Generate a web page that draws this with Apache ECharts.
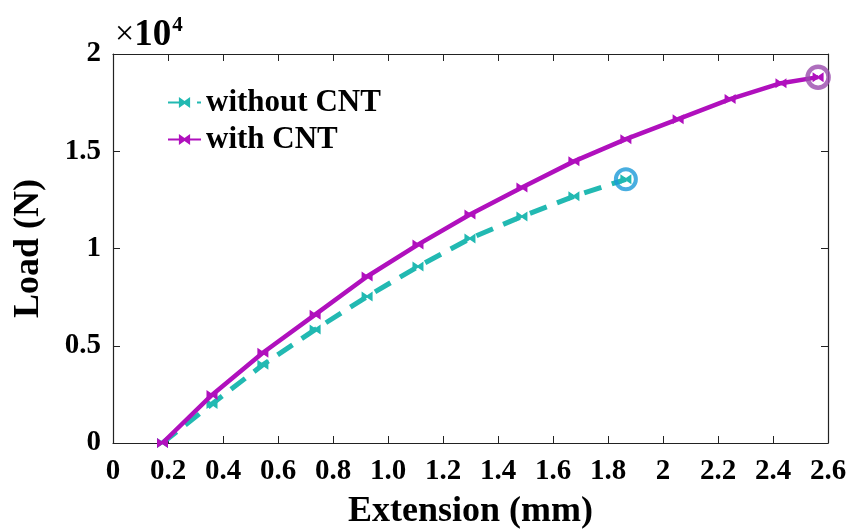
<!DOCTYPE html>
<html>
<head>
<meta charset="utf-8">
<script src="https://cdn.jsdelivr.net/npm/echarts@6/dist/echarts.min.js"></script>
<style>
  html, body { margin: 0; padding: 0; background: #fff; }
  #main { width: 849px; height: 530px; }
</style>
</head>
<body>
<div id="main"></div>
<script>
// extension (mm) at each recorded point
var extension = [0.18, 0.36, 0.545, 0.735, 0.924, 1.109, 1.298, 1.487, 1.676, 1.865, 2.055, 2.244, 2.429, 2.564];
// load (N)
var withCnt = [0, 2470, 4640, 6600, 8560, 10200, 11750, 13140, 14480, 15620, 16650, 17680, 18500, 18810];
var withoutCnt = [0, 2010, 4020, 5830, 7530, 9070, 10510, 11650, 12680, 13560];
var xTickLabels = ['0', '0.2', '0.4', '0.6', '0.8', '1.0', '1.2', '1.4', '1.6', '1.8', '2', '2.2', '2.4', '2.6'];
var yTickLabels = ['0', '0.5', '1', '1.5', '2'];

var myChart = echarts.init(document.getElementById('main'));

var pairs = function (xs, ys) {
    var result = [];
    for (var i = 0; i < ys.length; i++) {
        result.push([xs[i], ys[i]]);
    }
    return result;
};

var font = 'Liberation Serif';
var marker = 'path://M0,0L5,3L10,0L10,8L5,5L0,8Z';
var teal = '#22b9b2';
var purple = '#b010bd';
var axisColor = '#222';

var lastNo = withoutCnt.length - 1;
var lastWith = withCnt.length - 1;

option = {
    backgroundColor: '#fff',
    animation: false,
    textStyle: { fontFamily: font },
    grid: { left: 113, right: 21, top: 54, bottom: 87, outerBoundsMode: 'none' },
    legend: {
        orient: 'vertical',
        left: 162,
        top: 82,
        itemWidth: 33,
        itemHeight: 14,
        itemGap: 6,
        data: ['without CNT', 'with CNT'],
        textStyle: { fontFamily: font, fontWeight: 'bold', fontSize: 31, color: '#000' }
    },
    graphic: [{
        type: 'text',
        left: 115,
        top: 15,
        style: {
            text: '{a|×}{c|10}{b|4}',
            rich: {
                a: { fontFamily: font, fontSize: 34, fill: '#000' },
                c: { fontFamily: font, fontSize: 37, fontWeight: 'bold', fill: '#000' },
                b: { fontFamily: font, fontSize: 21, fontWeight: 'bold', fill: '#000', padding: [0, 0, 20, 1] }
            }
        }
    }],
    xAxis: [{
        type: 'value',
        min: 0,
        max: 2.6,
        interval: 0.2,
        name: 'Extension (mm)',
        nameLocation: 'middle',
        nameGap: 51,
        nameTextStyle: { fontFamily: font, fontWeight: 'bold', fontSize: 36, color: '#000' },
        axisLine: { onZero: false, lineStyle: { color: axisColor, width: 1.2 } },
        axisTick: { inside: true, length: 7, lineStyle: { color: axisColor } },
        splitLine: { show: false },
        axisLabel: {
            margin: 14,
            color: '#000',
            fontFamily: font,
            fontWeight: 'bold',
            fontSize: 29,
            formatter: function (v) { return xTickLabels[Math.round(v / 0.2)]; }
        }
    }, {
        type: 'value',
        position: 'top',
        min: 0,
        max: 2.6,
        interval: 0.2,
        axisLine: { show: true, onZero: false, lineStyle: { color: axisColor, width: 1.2 } },
        axisTick: { show: true, inside: true, length: 7, lineStyle: { color: axisColor } },
        axisLabel: { show: false },
        splitLine: { show: false }
    }],
    yAxis: [{
        type: 'value',
        min: 0,
        max: 20000,
        interval: 5000,
        name: 'Load (N)',
        nameLocation: 'middle',
        nameGap: 66,
        nameTextStyle: { fontFamily: font, fontWeight: 'bold', fontSize: 36, color: '#000' },
        axisLine: { show: true, onZero: false, lineStyle: { color: axisColor, width: 1.2 } },
        axisTick: { show: true, inside: true, length: 7, lineStyle: { color: axisColor } },
        splitLine: { show: false },
        axisLabel: {
            margin: 12,
            color: '#000',
            fontFamily: font,
            fontWeight: 'bold',
            fontSize: 29,
            formatter: function (v) { return yTickLabels[Math.round(v / 5000)]; }
        }
    }, {
        type: 'value',
        position: 'right',
        min: 0,
        max: 20000,
        interval: 5000,
        axisLine: { show: true, onZero: false, lineStyle: { color: axisColor, width: 1.2 } },
        axisTick: { show: true, inside: true, length: 7, lineStyle: { color: axisColor } },
        axisLabel: { show: false },
        splitLine: { show: false }
    }],
    series: [{
        name: 'without CNT',
        type: 'line',
        data: pairs(extension, withoutCnt),
        symbol: marker,
        symbolSize: [11, 10],
        itemStyle: { color: teal },
        lineStyle: { color: teal, width: 5, type: [18, 11] },
        z: 2
    }, {
        name: 'with CNT',
        type: 'line',
        data: pairs(extension, withCnt),
        symbol: marker,
        symbolSize: [11, 10],
        itemStyle: { color: purple },
        lineStyle: { color: purple, width: 4.5 },
        z: 3
    }, {
        type: 'scatter',
        data: [[extension[lastNo], withoutCnt[lastNo]]],
        symbol: 'circle',
        symbolSize: 20,
        itemStyle: { color: 'rgba(255,255,255,0)', borderColor: '#1a9ad8', borderWidth: 4 },
        z: 4
    }, {
        type: 'scatter',
        data: [[extension[lastWith], withCnt[lastWith]]],
        symbol: 'circle',
        symbolSize: 21,
        itemStyle: { color: 'rgba(255,255,255,0)', borderColor: '#9a4aad', borderWidth: 4.5 },
        z: 4
    }]
};
myChart.setOption(option);
</script>
</body>
</html>
